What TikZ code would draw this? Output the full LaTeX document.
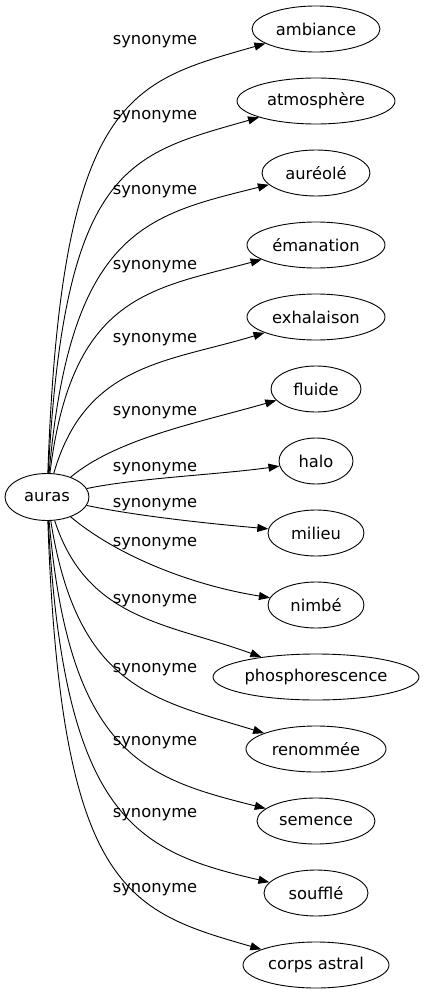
\documentclass[tikz,border=0pt]{standalone}
\usepackage{fontspec}
\setmainfont{DejaVu Sans}
\usetikzlibrary{shapes.geometric,arrows.meta}

\begin{document}
\begin{tikzpicture}[x=1pt, y=1pt, node distance=72pt, font=\fontsize{16.3}{19}\selectfont]
\tikzstyle{word} = [ellipse, draw=black, line width=0.9pt, inner sep=0pt, minimum height=46pt]
\tikzstyle{lbl} = [inner sep=0pt]
\tikzstyle{arrow} = [line width=0.9pt, -{Triangle[length=11pt,width=8pt]}]
%
\useasboundingbox (0,0) rectangle (424,-995);
%
\node (0) [word, minimum width=84pt, minimum height=47pt] at (47,-497) {auras};
\node (1)  [word, minimum width=128pt] at (316,-29) {ambiance};
\node (2)  [word, minimum width=158pt, below of=1]  {atmosphère};
\node (3)  [word, minimum width=108pt, below of=2]  {auréolé};
\node (4)  [word, minimum width=138pt, below of=3]  {émanation};
\node (5)  [word, minimum width=138pt, below of=4]  {exhalaison};
\node (6)  [word, minimum width=90pt,  below of=5]  {fluide};
\node (7)  [word, minimum width=74pt,  below of=6]  {halo};
\node (8)  [word, minimum width=96pt,  below of=7]  {milieu};
\node (9)  [word, minimum width=96pt,  below of=8]  {nimbé};
\node (10) [word, minimum width=206pt, below of=9]  {phosphorescence};
\node (11) [word, minimum width=140pt, below of=10] {renommée};
\node (12) [word, minimum width=118pt, below of=11] {semence};
\node (13) [word, minimum width=104pt, below of=12] {soufflé};
\node (14) [word, minimum width=146pt, below of=13] {corps astral};
%
\node (l1)  [lbl] at (155,-42)  {synonyme};
\node (l2)  [lbl] at (155,-117) {synonyme};
\node (l3)  [lbl] at (155,-192) {synonyme};
\node (l4)  [lbl] at (155,-267) {synonyme};
\node (l5)  [lbl] at (155,-340) {synonyme};
\node (l6)  [lbl] at (155,-413) {synonyme};
\node (l7)  [lbl] at (155,-469) {synonyme};
\node (l8)  [lbl] at (155,-505) {synonyme};
\node (l9)  [lbl] at (155,-544) {synonyme};
\node (l10) [lbl] at (155,-601) {synonyme};
\node (l11) [lbl] at (155,-670) {synonyme};
\node (l12) [lbl] at (155,-743) {synonyme};
\node (l13) [lbl] at (155,-815) {synonyme};
\node (l14) [lbl] at (155,-890) {synonyme};
%
\draw [arrow] (0) to[out=88,  in=196, out distance=380pt, in distance=140pt] (1);
\draw [arrow] (0) to[out=87,  in=196, out distance=310pt, in distance=135pt] (2);
\draw [arrow] (0) to[out=85,  in=194, out distance=245pt, in distance=125pt] (3);
\draw [arrow] (0) to[out=83,  in=195, out distance=180pt, in distance=115pt] (4);
\draw [arrow] (0) to[out=74,  in=197, out distance=115pt, in distance=100pt] (5);
\draw [arrow] (0) to[out=40,  in=196, out distance=60pt,  in distance=80pt]  (6);
\draw [arrow] (0) to[out=12,  in=188, out distance=50pt,  in distance=60pt]  (7);
\draw [arrow] (0) to[out=-12, in=175, out distance=50pt,  in distance=60pt]  (8);
\draw [arrow] (0) to[out=-40, in=171, out distance=60pt,  in distance=80pt]  (9);
\draw [arrow] (0) to[out=-72, in=160, out distance=105pt, in distance=100pt] (10);
\draw [arrow] (0) to[out=-81, in=163, out distance=170pt, in distance=115pt] (11);
\draw [arrow] (0) to[out=-85, in=166, out distance=235pt, in distance=125pt] (12);
\draw [arrow] (0) to[out=-87, in=167, out distance=300pt, in distance=135pt] (13);
\draw [arrow] (0) to[out=-88, in=164, out distance=370pt, in distance=140pt] (14);
\end{tikzpicture}
\end{document}
